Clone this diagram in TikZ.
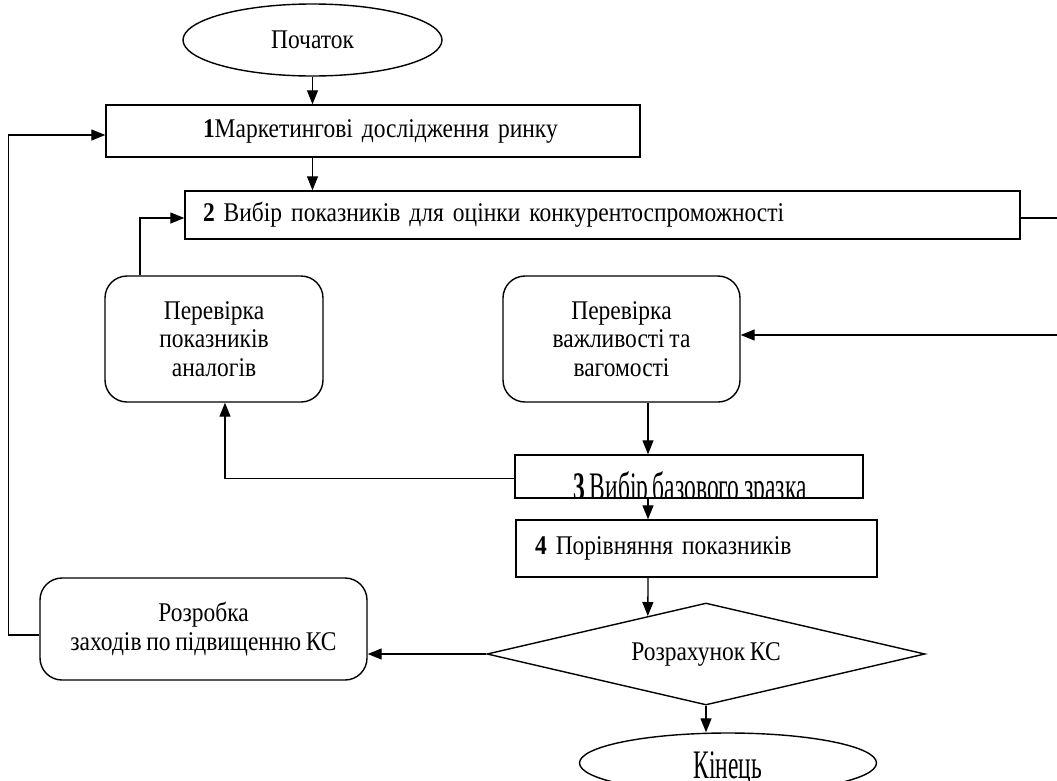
\documentclass[tikz,border=0pt]{standalone}
\usepackage{fontspec}
\setmainfont[FakeStretch=0.87,WordSpace=0.8]{Liberation Serif}
\usetikzlibrary{shapes.geometric,arrows.meta,calc}
\begin{document}
\begin{tikzpicture}[x=1pt,y=-1pt,
  every node/.style={font=\fontsize{27}{28.3}\selectfont},
  box/.style={draw,line width=1.4pt,inner sep=0pt},
  rbox/.style={draw,line width=1.4pt,rounded corners=22pt,align=center,inner sep=0pt},
  arr/.style={line width=1.3pt,-{Triangle[length=14pt,width=11pt]}},
  ln/.style={line width=1.3pt}]
\useasboundingbox (0,0) rectangle (1057,780);
\clip (0,0) rectangle (1057,780);

% nodes
\node[box,ellipse,minimum width=259,minimum height=72] (start) at (312.5,40) {Початок};
\node[box,minimum width=534,minimum height=52,text width=534,align=left] (b1) at (373,131)
  {\hspace*{97pt}\textbf{1}Маркетингові дослідження ринку};
\node[box,minimum width=835,minimum height=48,text width=835,align=left] (b2) at (602.5,215)
  {\hspace*{18pt}\textbf{2} Вибір показників для оцінки конкурентоспроможності};
\node[rbox,minimum width=218,minimum height=126] (chkA) at (214,339)
  {Перевірка\\показників\\аналогів};
\node[rbox,minimum width=237,minimum height=126] (chkB) at (621.5,339)
  {Перевірка\\важливості та\\вагомості};
\node[box,minimum width=348,minimum height=43] (b3) at (689,476.5) {};
\begin{scope}
  \clip ([shift={(0.7pt,0.7pt)}]b3.south west) rectangle ([shift={(-0.7pt,-0.7pt)}]b3.north east);
  \node[anchor=base,inner sep=0pt] (b3t) at (690,500) {\scalebox{1}[1.5]{\textbf{3} Вибір базового зразка}};
\end{scope}
\node[box,minimum width=361,minimum height=57,text width=361,align=left] (b4) at (696.5,548.5)
  {\hspace*{19pt}\textbf{4} Порівняння показників};
\node[box,diamond,aspect=4.3,minimum width=438,minimum height=102] (dia) at (706,654) {Розрахунок КС};
\node[rbox,minimum width=327,minimum height=102] (rA) at (203.5,629)
  {Розробка\\заходів по підвищенню КС};
\node[box,ellipse,minimum width=297,minimum height=60] (end) at (728,763) {};
\node[anchor=base,inner sep=0pt] (endt) at (728,778) {\scalebox{1}[1.5]{Кінець}};

% connectors
\coordinate (ax) at (648,0);
\coordinate (eR1) at (1060,218);
\coordinate (eR2) at (1060,335);
\draw[arr] (start.south) -- (start.south |- b1.north);
\draw[arr] (b1.south -| start.south) -- (b2.north -| start.south);
\draw[arr] ([yshift=-6pt]rA.west) -| ([xshift=-97pt,yshift=-4pt]b1.west) -- ([yshift=-4pt]b1.west);
\draw[arr] ([xshift=-74pt]chkA.north) |- ([yshift=-3pt]b2.west);
\draw[ln] ([yshift=-3pt]b2.east) -- (eR1);
\draw[arr] (eR2) -- (chkB.east |- eR2);
\draw[arr] (chkB.south -| ax) -- (b3.north -| ax);
\draw[arr] ([yshift=-2pt]b3.west) -| ([xshift=11pt]chkA.south);
\draw[arr] (b3.south -| ax) -- (b4.north -| ax);
\draw[arr] (b4.south -| ax) -- ($(dia.west)!0.735!(dia.north)$);
\draw[arr] (dia.west) -- (rA.east |- dia.west);
\draw[arr] (dia.south) -- (dia.south |- end.north);
\end{tikzpicture}
\end{document}
